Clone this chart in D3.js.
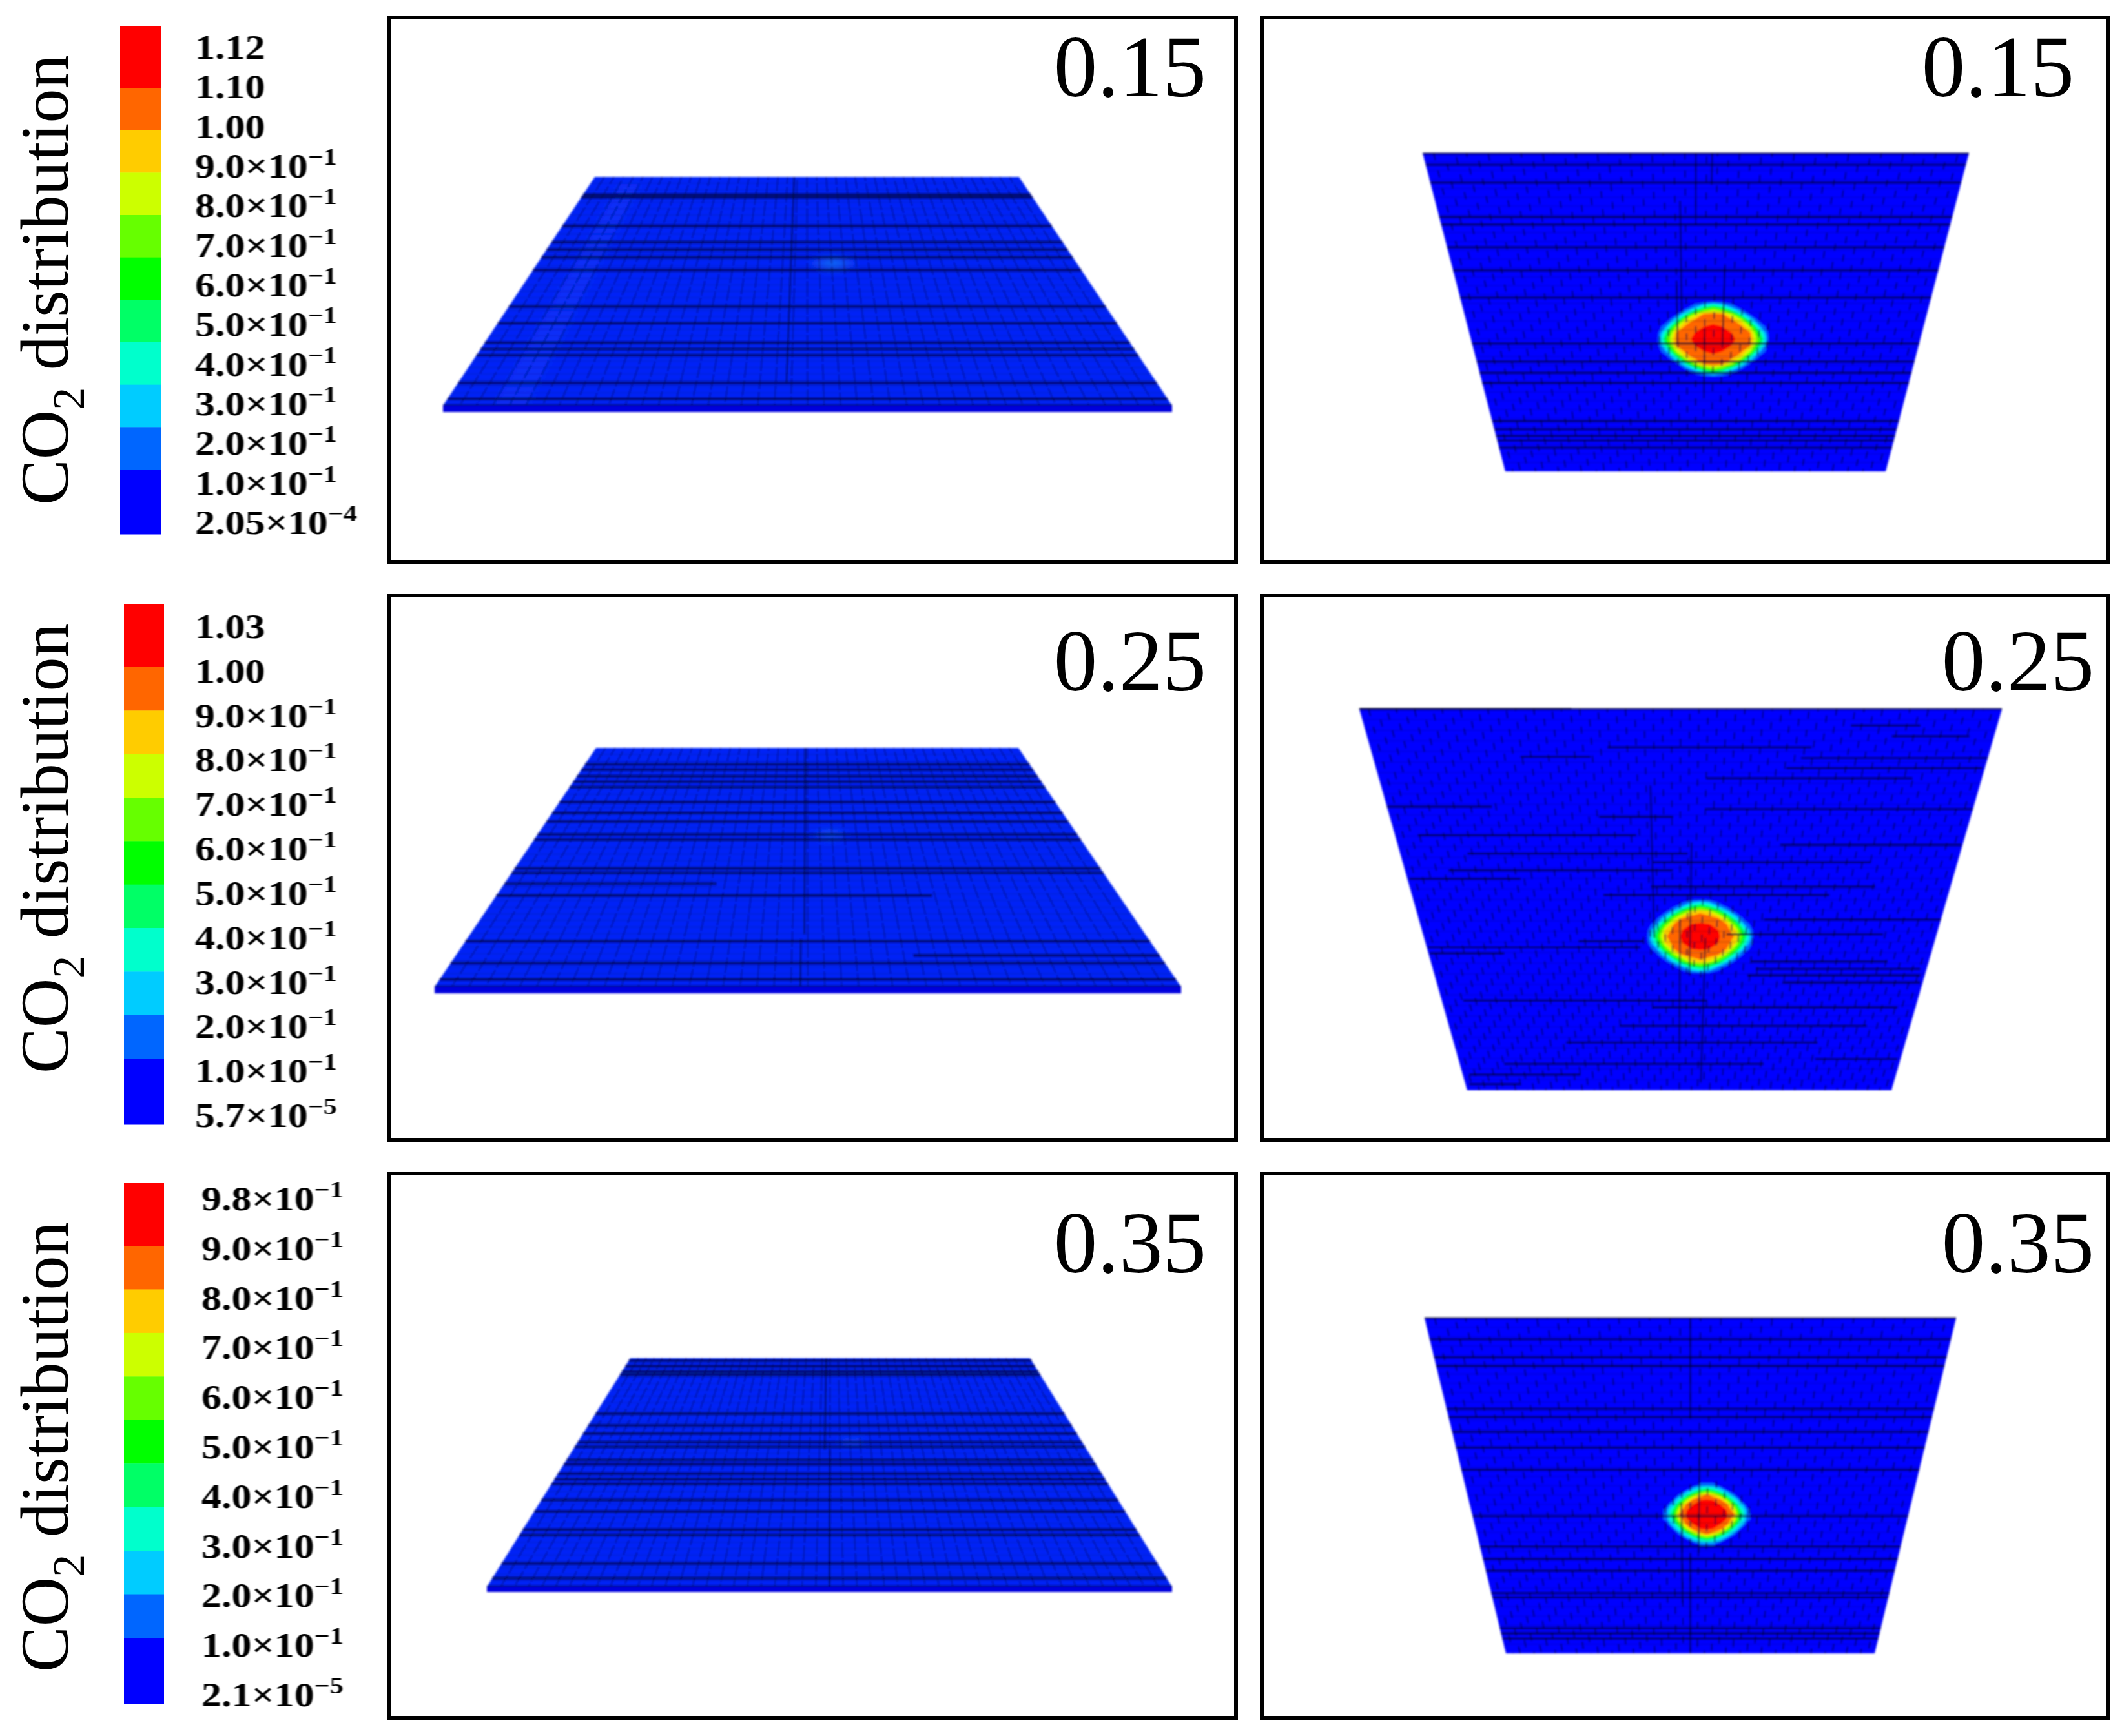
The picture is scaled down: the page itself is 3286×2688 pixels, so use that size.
<!DOCTYPE html>
<html>
<head>
<meta charset="utf-8">
<script src="https://cdnjs.cloudflare.com/ajax/libs/d3/7.8.5/d3.min.js"></script>
<style>
  html, body { margin: 0; background: #fff; }
  svg { display: block; }
  text { font-family: "Liberation Serif", serif; fill: #000; }
</style>
</head>
<body>
<script>
// ---- values ----
var rateLabels = ["0.15", "0.25", "0.35"]
var bandColors = ["#ff0000", "#ff6600", "#ffcc00", "#ccff00", "#66ff00", "#00ff00", "#00ff66", "#00ffcc", "#00ccff", "#0066ff", "#0000ff"]

var legendLabels015 = ["1.12", "1.10", "1.00", "9.0×10^−1", "8.0×10^−1", "7.0×10^−1", "6.0×10^−1", "5.0×10^−1", "4.0×10^−1", "3.0×10^−1", "2.0×10^−1", "1.0×10^−1", "2.05×10^−4"]
var legendLabels025 = ["1.03", "1.00", "9.0×10^−1", "8.0×10^−1", "7.0×10^−1", "6.0×10^−1", "5.0×10^−1", "4.0×10^−1", "3.0×10^−1", "2.0×10^−1", "1.0×10^−1", "5.7×10^−5"]
var legendLabels035 = ["9.8×10^−1", "9.0×10^−1", "8.0×10^−1", "7.0×10^−1", "6.0×10^−1", "5.0×10^−1", "4.0×10^−1", "3.0×10^−1", "2.0×10^−1", "1.0×10^−1", "2.1×10^−5"]

// lower bound of every coloured contour band, red first
var levels015 = [1.0, 0.9, 0.8, 0.7, 0.6, 0.5, 0.4, 0.3, 0.2, 0.1]
var levels025 = [1.0, 0.9, 0.8, 0.7, 0.6, 0.5, 0.4, 0.3, 0.2, 0.1]
var levels035 = [0.9, 0.8, 0.7, 0.6, 0.5, 0.4, 0.3, 0.2, 0.1, 0.05]

// CO2 around the injection spot, one quadrant (mirrored when drawn)
var spot015 = [
  [1.12, 1.08, 1.02, 0.97, 0.925, 0.60, 0.09],
  [1.08, 1.05, 1.0, 0.955, 0.905, 0.45, 0.06],
  [1.02, 1.0, 0.965, 0.93, 0.70, 0.22, 0.02],
  [0.97, 0.955, 0.93, 0.78, 0.33, 0.05, 0],
  [0.925, 0.905, 0.70, 0.33, 0.06, 0, 0],
  [0.60, 0.45, 0.22, 0.05, 0, 0, 0],
  [0.09, 0.06, 0.02, 0, 0, 0, 0]]
var spot025 = [
  [1.03, 1.02, 1.008, 0.975, 0.88, 0.50, 0.09],
  [1.02, 1.013, 1.003, 0.95, 0.81, 0.39, 0.07],
  [1.008, 1.003, 0.97, 0.90, 0.60, 0.19, 0.02],
  [0.975, 0.95, 0.90, 0.67, 0.29, 0.05, 0],
  [0.88, 0.81, 0.60, 0.29, 0.07, 0, 0],
  [0.50, 0.39, 0.19, 0.05, 0, 0, 0],
  [0.09, 0.07, 0.02, 0, 0, 0, 0]]
var spot035 = [
  [0.98, 0.957, 0.933, 0.91, 0.83, 0.42, 0.09],
  [0.957, 0.945, 0.922, 0.898, 0.73, 0.33, 0.07],
  [0.933, 0.922, 0.905, 0.84, 0.54, 0.17, 0.02],
  [0.91, 0.898, 0.84, 0.60, 0.26, 0.05, 0],
  [0.83, 0.73, 0.54, 0.26, 0.07, 0, 0],
  [0.42, 0.33, 0.17, 0.05, 0, 0, 0],
  [0.09, 0.07, 0.02, 0, 0, 0, 0]]
// the weak trace of the same spot on the tilted view
var trace015 = [[0.24, 0.18, 0.08, 0.01], [0.16, 0.11, 0.04, 0], [0.06, 0.03, 0.01, 0], [0.01, 0, 0, 0]]
var trace025 = [[0.14, 0.10, 0.05, 0.01], [0.09, 0.07, 0.02, 0], [0.04, 0.02, 0, 0], [0.01, 0, 0, 0]]
var trace035 = [[0.09, 0.07, 0.03, 0], [0.06, 0.04, 0.01, 0], [0.02, 0.01, 0, 0], [0, 0, 0, 0]]

// full width mesh lines, as fraction of the plate depth
var sideLines015 = [0.077, 0.09, 0.214, 0.285, 0.318, 0.351, 0.407, 0.567, 0.753, 0.78, 0.901, 1]
var sideLines025 = [0.069, 0.092, 0.119, 0.141, 0.164, 0.227, 0.272, 0.308, 0.362, 0.384, 0.505, 0.523, 0.809, 0.901, 1]
var sideLines035 = [0.011, 0.035, 0.058, 0.072, 0.294, 0.33, 0.367, 0.388, 0.444, 0.463, 0.506, 0.529, 0.55, 0.621, 0.67, 0.75, 0.773, 0.898, 0.962, 1]
var topLines015 = [0.002, 0.037, 0.093, 0.201, 0.225, 0.296, 0.369, 0.454, 0.598, 0.655, 0.69, 0.722, 0.842, 0.868, 0.888, 0.903, 0.925]
var topLines025 = [0]
var topLines035 = [0, 0.063, 0.117, 0.143, 0.27, 0.295, 0.34, 0.386, 0.452, 0.591, 0.682, 0.718, 0.754, 0.82, 0.833, 0.925, 0.94, 0.956]

// broken mesh lines: depth, from, to
var sidePartial015 = [[0.64, 0, 1], [0.725, 0, 1], [0.97, 0, 1]]
var sidePartial025 = [[0.568, 0, 0.35], [0.618, 0, 0.7], [0.869, 0.65, 1], [0.968, 0, 1]]
var sidePartial035 = [[0.242, 0, 1]]
var topPartial015 = []
var topPartial025 = [[0.043, 0.769, 0.879], [0.071, 0.837, 0.961], [0.10, 0.382, 0.711], [0.125, 0.24, 0.354], [0.128, 0.696, 1], [0.155, 0.674, 0.996], [0.181, 0.543, 0.885],
  [0.256, 0, 0.179], [0.262, 0.544, 1], [0.283, 0.36, 0.488], [0.331, 0.04, 0.423], [0.356, 0.677, 0.998], [0.379, 0.12, 0.514], [0.402, 0.451, 0.844], [0.423, 0.079, 0.487],
  [0.445, 0.004, 0.208], [0.466, 0.446, 0.861], [0.488, 0.357, 0.779], [0.552, 0.661, 1], [0.591, 0.591, 0.896], [0.609, 0.301, 0.43], [0.625, 0.002, 0.422], [0.641, 0.003, 0.151],
  [0.662, 0.644, 0.917], [0.682, 0.654, 0.987], [0.699, 0.638, 0.991], [0.717, 0.711, 0.995], [0.765, 0.045, 0.556], [0.783, 0.443, 0.962], [0.831, 0.37, 0.906], [0.875, 0.249, 0.806],
  [0.918, 0.807, 0.993], [0.931, 0.101, 0.692], [0.959, 0.015, 0.272], [0.984, 0.009, 0.129], [0, 0, 0.33]]
var topPartial035 = []

// long column lines: across, from depth, to depth
var sideColumns015 = [[0.47, 0, 0.9]]
var sideColumns025 = [[0.495, 0, 0.78], [0.49, 0.8, 1]]
var sideColumns035 = [[0.49, 0, 0.4], [0.5, 0.4, 1]]
var topColumns015 = [[0.5, 0, 0.2], [0.53, 0, 0.1], [0.47, 0.15, 0.5], [0.52, 0.55, 0.75], [0.46, 0.4, 0.6], [0.56, 0.35, 0.6]]
var topColumns025 = [[0.52, 0.35, 0.7], [0.5, 0.55, 0.9], [0.45, 0.2, 0.6], [0.55, 0.6, 0.98]]
var topColumns035 = [[0.5, 0, 0.3], [0.52, 0.38, 0.7], [0.48, 0.55, 0.85], [0.5, 0.7, 1]]

// ---- layout ----
var W = 3286, H = 2688

var rows = [
  {label: rateLabels[0], labels: legendLabels015, levels: levels015, spot: spot015, trace: trace015,
   frameTop: 27, frameBottom: 870, titleY: 782, labelX: 302, labelY: [91, 827], barX: [186, 250], barY: [41, 827], barEdges: [136, 727],
   rateY: 149, sideRateX: 1868, topRateX: 3212,
   side: {tl: 921, tr: 1578, bl: 686, br: 1815, top: 274, bottom: 628, edge: 10, cols: 44, spotX: 1290, spotY: 408, rx: 42, ry: 16,
          lines: sideLines015, partial: sidePartial015, columns: sideColumns015, streak: [0.07, 0.115]},
   plan: {tl: 2203, tr: 3049, bl: 2331, br: 2920, top: 237, bottom: 730, cols: 50, spotX: 2653, spotY: 525, rx: 86, ry: 58,
          lines: topLines015, partial: topPartial015, columns: topColumns015}},
  {label: rateLabels[1], labels: legendLabels025, levels: levels025, spot: spot025, trace: trace025,
   frameTop: 922, frameBottom: 1765, titleY: 1662, labelX: 302, labelY: [988, 1745], barX: [192, 254], barY: [935, 1741], barEdges: [1033, 1639],
   rateY: 1069, sideRateX: 1868, topRateX: 3243,
   side: {tl: 923, tr: 1577, bl: 673, br: 1829, top: 1158, bottom: 1528, edge: 10, cols: 44, spotX: 1285, spotY: 1293, rx: 36, ry: 14,
          lines: sideLines025, partial: sidePartial025, columns: sideColumns025},
   plan: {tl: 2105, tr: 3100, bl: 2272, br: 2929, top: 1098, bottom: 1688, cols: 70, spotX: 2633, spotY: 1450, rx: 82, ry: 57,
          lines: topLines025, partial: topPartial025, columns: topColumns025}},
  {label: rateLabels[2], labels: legendLabels035, levels: levels035, spot: spot035, trace: trace035,
   frameTop: 1817, frameBottom: 2660, titleY: 2589, labelX: 312, labelY: [1874, 2642], barX: [192, 254], barY: [1831, 2638], barEdges: [1929, 2536],
   rateY: 1970, sideRateX: 1868, topRateX: 3243,
   side: {tl: 976, tr: 1595, bl: 754, br: 1815, top: 2103, bottom: 2457, edge: 8, cols: 50, spotX: 1320, spotY: 2233, rx: 36, ry: 13,
          lines: sideLines035, partial: sidePartial035, columns: sideColumns035},
   plan: {tl: 2206, tr: 3029, bl: 2332, br: 2903, top: 2041, bottom: 2560, cols: 52, spotX: 2643, spotY: 2345, rx: 62, ry: 45,
          lines: topLines035, partial: topPartial035, columns: topColumns035}}
]

var frameX = [[603, 1914], [1954, 3264]]
var sideBlue = "#0624f6", planBlue = "#0000ff"

var svg = d3.select("body").append("svg")
    .attr("width", W)
    .attr("height", H)
    .attr("viewBox", "0 0 " + W + " " + H)

var defs = svg.append("defs")
defs.append("filter").attr("id", "soft").attr("x", "-5%").attr("y", "-5%").attr("width", "110%").attr("height", "110%")
  .append("feGaussianBlur").attr("stdDeviation", 1.5)
defs.append("filter").attr("id", "softText").attr("x", "-5%").attr("y", "-20%").attr("width", "110%").attr("height", "140%")
  .append("feGaussianBlur").attr("stdDeviation", 0.7)
defs.append("filter").attr("id", "glow").attr("x", "-50%").attr("y", "-50%").attr("width", "200%").attr("height", "200%")
  .append("feGaussianBlur").attr("stdDeviation", 5)

rows.forEach(function (row) {
  drawLegend(row)
  frameX.forEach(function (fx) {
    svg.append("rect")
      .attr("x", fx[0]).attr("y", row.frameTop)
      .attr("width", fx[1] - fx[0]).attr("height", row.frameBottom - row.frameTop)
      .attr("fill", "none").attr("stroke", "#000").attr("stroke-width", 6)
  })
  drawPlate(row.side, sideBlue, true, row)
  drawPlate(row.plan, planBlue, false, row)
  rateText(row.sideRateX, row.rateY, row.label)
  rateText(row.topRateX, row.rateY, row.label)
})

function rateText (x, y, label) {
  svg.append("text")
    .attr("x", x).attr("y", y)
    .attr("text-anchor", "end")
    .attr("font-size", 135)
    .attr("filter", "url(#softText)")
    .text(label)
}

function drawLegend (row) {
  var title = svg.append("text")
    .attr("transform", "translate(105," + row.titleY + ") rotate(-90)")
    .attr("font-size", 106)
    .attr("filter", "url(#softText)")
  title.append("tspan").text("CO")
  title.append("tspan").attr("font-size", 70).attr("dy", 25).text("2")
  title.append("tspan").attr("dy", -25).text(" distribution")

  // band edges: first and last band are taller, the rest even
  var inner = d3.scaleLinear().domain([1, bandColors.length - 1]).range(row.barEdges)
  function edge (i) {
    if (i === 0) return row.barY[0]
    if (i === bandColors.length) return row.barY[1]
    return inner(i)
  }
  svg.append("g").selectAll("rect")
    .data(bandColors)
    .enter().append("rect")
      .attr("x", row.barX[0])
      .attr("width", row.barX[1] - row.barX[0])
      .attr("y", function (d, i) { return edge(i) })
      .attr("height", function (d, i) { return edge(i + 1) - edge(i) + 0.5 })
      .attr("fill", function (d) { return d })

  var y = d3.scalePoint().domain(row.labels).range(row.labelY)
  row.labels.forEach(function (label) {
    var parts = label.split("^")
    var t = svg.append("text")
      .attr("transform", "translate(" + row.labelX + "," + y(label) + ") scale(1.17,1)")
      .attr("font-size", 53)
      .attr("font-weight", "bold")
      .attr("filter", "url(#softText)")
    t.append("tspan").text(parts[0])
    if (parts[1]) {
      t.append("tspan")
        .attr("font-size", 36).attr("dy", -20)
        .attr("font-weight", "bold")
        .text(parts[1])
    }
  })
}

function drawPlate (p, blue, tilted, row) {
  var yv = d3.scaleLinear().domain([0, 1]).range([p.top, p.bottom])
  var left = d3.scaleLinear().domain([0, 1]).range([p.tl, p.bl])
  var right = d3.scaleLinear().domain([0, 1]).range([p.tr, p.br])
  function project (u, v) {
    return [left(v) + (right(v) - left(v)) * u, yv(v)]
  }
  var line = d3.line()
  var g = svg.append("g").attr("filter", "url(#soft)")

  g.append("path")
    .attr("d", line([project(0, 0), project(1, 0), project(1, 1), project(0, 1)]) + "Z")
    .attr("fill", blue)

  if (p.streak) {
    g.append("path")
      .attr("d", line([project(p.streak[0], 0.03), project(p.streak[1], 0.03), project(p.streak[1], 1), project(p.streak[0], 1)]) + "Z")
      .attr("fill", "#0a55ff").attr("opacity", 0.22).attr("filter", "url(#glow)")
  }

  if (tilted) {
    drawField(g, row.trace, p, [0.03, 0.06, 0.1, 0.15, 0.2], d3.scaleLinear().domain([0, 0.24]).range(["#0630f6", "#0a78f4"]), "url(#glow)")
  } else {
    var color = d3.scaleOrdinal().domain(row.levels).range(bandColors)
    drawField(g, row.spot, p, row.levels.slice().reverse(), color, null)
  }

  // fine mesh columns, they break up into dashes when the image is shrunk
  var us = d3.range(1, p.cols).map(function (i) { return i / p.cols })
  g.append("g").selectAll("path")
    .data(us)
    .enter().append("path")
      .attr("d", function (u) { return line([project(u, 0), project(u, 1)]) })
      .attr("fill", "none")
      .attr("stroke", tilted ? "#000050" : "#000030")
      .attr("stroke-width", tilted ? 1.9 : 2)
      .attr("stroke-opacity", tilted ? 0.5 : 0.72)
      .attr("stroke-dasharray", tilted ? "24 4" : "11 17")
      .attr("stroke-dashoffset", function (u, i) { return (i * 11) % 28 })

  // fine mesh rows
  var vs = d3.range(1, 36).map(function (i) { return i / 36 })
  g.append("g").selectAll("path")
    .data(vs)
    .enter().append("path")
      .attr("d", function (v) { return line([project(0, v), project(1, v)]) })
      .attr("stroke", "#000040")
      .attr("stroke-width", 1.4)
      .attr("stroke-opacity", 0.2)

  var lineWidth = tilted ? 4.5 : 3.2, lineOpacity = tilted ? 0.6 : 0.75
  g.append("g").selectAll("path")
    .data(p.lines)
    .enter().append("path")
      .attr("d", function (v) { return line([project(0, v), project(1, v)]) })
      .attr("stroke", "#000028")
      .attr("stroke-width", lineWidth)
      .attr("stroke-opacity", lineOpacity)

  g.append("g").selectAll("path")
    .data(p.partial)
    .enter().append("path")
      .attr("d", function (d) { return line([project(d[1], d[0]), project(d[2], d[0])]) })
      .attr("stroke", "#000028")
      .attr("stroke-width", lineWidth)
      .attr("stroke-opacity", lineOpacity)

  g.append("g").selectAll("path")
    .data(p.columns)
    .enter().append("path")
      .attr("d", function (d) { return line([project(d[0], d[1]), project(d[0], d[2])]) })
      .attr("stroke", "#000028")
      .attr("stroke-width", 2.4)
      .attr("stroke-opacity", 0.7)

  // front edge of the slab on the tilted view
  if (p.edge) {
    g.append("rect")
      .attr("x", p.bl).attr("y", p.bottom)
      .attr("width", p.br - p.bl).attr("height", p.edge)
      .attr("fill", "#0000dd")
  }
}

// contours of a mirrored quadrant, fitted around the spot
function drawField (g, quadrant, p, thresholds, color, filter) {
  var n = quadrant.length, size = 2 * n - 1
  var values = new Array(size * size)
  for (var j = 0; j < size; j++) {
    for (var i = 0; i < size; i++) {
      values[j * size + i] = quadrant[Math.abs(j - n + 1)][Math.abs(i - n + 1)]
    }
  }
  var x = d3.scaleLinear().domain([size / 2 - (n - 1), size / 2 + (n - 1)]).range([p.spotX - p.rx, p.spotX + p.rx])
  var y = d3.scaleLinear().domain([size / 2 - (n - 1), size / 2 + (n - 1)]).range([p.spotY - p.ry, p.spotY + p.ry])
  var path = d3.geoPath(d3.geoTransform({
    point: function (px, py) { this.stream.point(x(px), y(py)) }
  }))
  var contours = d3.contours().size([size, size]).thresholds(thresholds)(values)
  g.append("g")
    .attr("filter", filter)
    .selectAll("path")
    .data(contours)
    .enter().append("path")
      .attr("d", path)
      .attr("fill", function (d) { return color(d.value) })
}
</script>
</body>
</html>
